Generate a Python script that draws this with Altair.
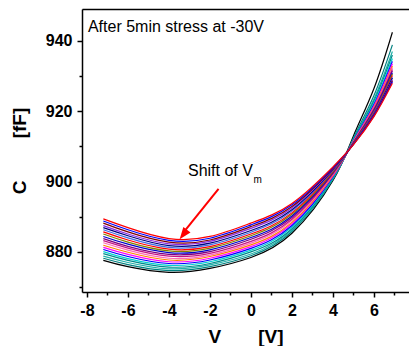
import altair as alt
import pandas as pd

# Bias points (V) at which each curve is sampled
V_POINTS = [-7.2, -6, -4, -2, 0, 2, 4, 5, 6, 6.9]

# Capacitance (fF) of the 20 curves (bottom/black -> top/red at the left side)
C_AT_M7_2 = [877.6, 878.2, 878.8, 879.5, 880.1, 880.7, 881.3, 881.9, 882.6, 883.2,
             883.8, 884.4, 885.1, 885.7, 886.3, 886.9, 887.5, 888.2, 888.8, 889.4]
C_AT_M6 = [875.8, 876.4, 877.0, 877.6, 878.1, 878.7, 879.3, 879.9, 880.5, 881.1,
           881.6, 882.2, 882.8, 883.4, 884.0, 884.6, 885.1, 885.7, 886.3, 886.9]
C_AT_M4 = [874.2, 874.7, 875.2, 875.7, 876.2, 876.7, 877.2, 877.7, 878.2, 878.8,
           879.3, 879.8, 880.3, 880.8, 881.3, 881.8, 882.3, 882.8, 883.3, 883.8]
C_AT_M2 = [875.3, 875.8, 876.3, 876.7, 877.2, 877.7, 878.2, 878.7, 879.1, 879.6,
           880.1, 880.6, 881.1, 881.5, 882.0, 882.5, 883.0, 883.4, 883.9, 884.4]
C_AT_0 = [878.4, 878.9, 879.4, 880.0, 880.5, 881.0, 881.5, 882.0, 882.5, 883.0,
          883.6, 884.1, 884.6, 885.1, 885.6, 886.1, 886.7, 887.2, 887.7, 888.2]
C_AT_2 = [885.3, 885.8, 886.2, 886.6, 887.1, 887.5, 888.0, 888.4, 888.9, 889.3,
          889.8, 890.2, 890.7, 891.1, 891.6, 892.0, 892.5, 892.9, 893.4, 893.8]
C_AT_4 = [900.3, 900.6, 900.8, 901.0, 901.2, 901.4, 901.6, 901.8, 902.0, 902.2,
          902.4, 902.6, 902.8, 903.0, 903.2, 903.4, 903.6, 903.8, 904.0, 904.2]
C_AT_5 = [913.0, 912.4, 912.1, 911.9, 911.7, 911.6, 911.5, 911.4, 911.3, 911.2,
          911.1, 911.0, 911.0, 910.9, 910.8, 910.8, 910.7, 910.6, 910.6, 910.5]
C_AT_6 = [926.5, 924.5, 923.5, 922.9, 922.3, 921.9, 921.5, 921.2, 920.9, 920.7,
          920.4, 920.2, 919.9, 919.7, 919.5, 919.3, 919.1, 918.9, 918.7, 918.5]
C_AT_6_9 = [942.5, 938.9, 937.0, 936.0, 935.0, 934.2, 933.5, 932.9, 932.4, 931.9,
            931.5, 931.0, 930.6, 930.2, 929.7, 929.5, 929.0, 928.7, 928.4, 928.0]
COLUMNS = [C_AT_M7_2, C_AT_M6, C_AT_M4, C_AT_M2, C_AT_0, C_AT_2, C_AT_4, C_AT_5, C_AT_6, C_AT_6_9]

CURVE_COLORS = ["#000000", "#008080", "#20B2AA", "#008B8B", "#00CED1", "#0000FF",
                "#FF00FF", "#FF8000", "#FF69B4", "#C71585", "#800080", "#0000CD",
                "#808000", "#FF0000", "#4169E1", "#000080", "#8A2BE2", "#800000",
                "#0000FF", "#FF0000"]
CURVE_NAMES = [f"c{i:02d}" for i in range(len(CURVE_COLORS))]

X_TICKS = list(range(-8, 8))
Y_TICKS = list(range(870, 950, 10))

# annotations
TEXT_LABELS = ["After 5min stress at -30V", "Shift of V", "m"]
TEXT_V = [-7.95, -3.07, 0.13]
TEXT_C = [942.55, 901.55, 899.67]
TEXT_SIZE = [16, 16, 10]

ARROW_TAIL = (-1.58, 897.9)
ARROW_END = (-3.2, 886.2)
ARROW_HEAD = (-3.30, 884.98)

rows = []
for i, name in enumerate(CURVE_NAMES):
    for j, v in enumerate(V_POINTS):
        rows.append({"curve": name, "V": v, "C": COLUMNS[j][i]})
df = pd.DataFrame(rows)

xscale = alt.Scale(domain=[-8.24, 7.71], nice=False, zero=False)
yscale = alt.Scale(domain=[868.6, 949.1], nice=False, zero=False)

FONT = "Liberation Sans"
NB = "\u00a0"

x_axis = alt.Axis(
    orient="bottom",
    values=X_TICKS,
    labelExpr="datum.value % 2 == 0 ? '' + datum.value : ''",
    tickSize={"condition": {"test": "datum.value % 2 == 0", "value": 5}, "value": 3},
    title="V" + NB * 7 + "[V]",
    titleFontSize=19, titleFont=FONT, titleFontWeight="bold", titleColor="black",
    titlePadding=9,
    labelFont=FONT, labelFontSize=16, labelFontWeight="bold", labelColor="black",
    labelPadding=5, labelFlush=False, labelOverlap=False,
    domainColor="black", domainWidth=1.5, tickColor="black", tickWidth=1.5,
    grid=False,
)
y_axis = alt.Axis(
    orient="left",
    values=Y_TICKS,
    labelExpr="datum.value % 20 == 0 ? '' + datum.value : ''",
    tickSize={"condition": {"test": "datum.value % 20 == 0", "value": 5}, "value": 3},
    title="C" + NB * 8 + "[fF]",
    titleFontSize=19, titleFont=FONT, titleFontWeight="bold", titleColor="black",
    titlePadding=16,
    labelFont=FONT, labelFontSize=16, labelFontWeight="bold", labelColor="black",
    labelPadding=5, labelFlush=False, labelOverlap=False,
    domainColor="black", domainWidth=1.5, tickColor="black", tickWidth=1.5,
    grid=False,
)

lines = alt.Chart(df).mark_line(interpolate="natural", strokeWidth=1.2, clip=True).encode(
    x=alt.X("V:Q", scale=xscale, axis=x_axis),
    y=alt.Y("C:Q", scale=yscale, axis=y_axis),
    color=alt.Color("curve:N", scale=alt.Scale(domain=CURVE_NAMES, range=CURVE_COLORS), legend=None),
)

text_df = pd.DataFrame({"V": TEXT_V, "C": TEXT_C, "label": TEXT_LABELS, "fs": TEXT_SIZE})
texts = alt.Chart(text_df).mark_text(align="left", baseline="alphabetic", font=FONT, color="black").encode(
    x=alt.X("V:Q", scale=xscale,
            axis=alt.Axis(orient="top", labels=False, ticks=False, title=None, grid=False,
                          domainColor="black", domainWidth=1.5)),
    y=alt.Y("C:Q", scale=yscale, axis=None),
    text="label:N",
    size=alt.Size("fs:Q", scale=None, legend=None),
)

arrow_df = pd.DataFrame({"V": [ARROW_TAIL[0]], "C": [ARROW_TAIL[1]],
                         "V2": [ARROW_END[0]], "C2": [ARROW_END[1]]})
arrow_line = alt.Chart(arrow_df).mark_rule(color="#FF0000", strokeWidth=2).encode(
    x=alt.X("V:Q", scale=xscale, axis=None),
    y=alt.Y("C:Q", scale=yscale, axis=None),
    x2="V2:Q", y2="C2:Q",
)
head_df = pd.DataFrame({"V": [ARROW_HEAD[0]], "C": [ARROW_HEAD[1]]})
arrow_head = alt.Chart(head_df).mark_point(
    shape="M0,-1L-0.75,1L0.75,1Z", filled=True, color="#FF0000", size=144, angle=217.7, opacity=1
).encode(
    x=alt.X("V:Q", scale=xscale, axis=None),
    y=alt.Y("C:Q", scale=yscale, axis=None),
)

chart = alt.layer(lines, arrow_line, arrow_head, texts).resolve_axis(
    x="independent", y="independent"
).properties(
    width=327, height=283,
    autosize=alt.AutoSizeParams(type="none"),
    padding={"left": 74, "top": 1, "right": 0, "bottom": 54},
).configure_view(stroke=None).configure(background="white")

chart.save("out.html", embed_options={"renderer": "svg", "actions": False})
